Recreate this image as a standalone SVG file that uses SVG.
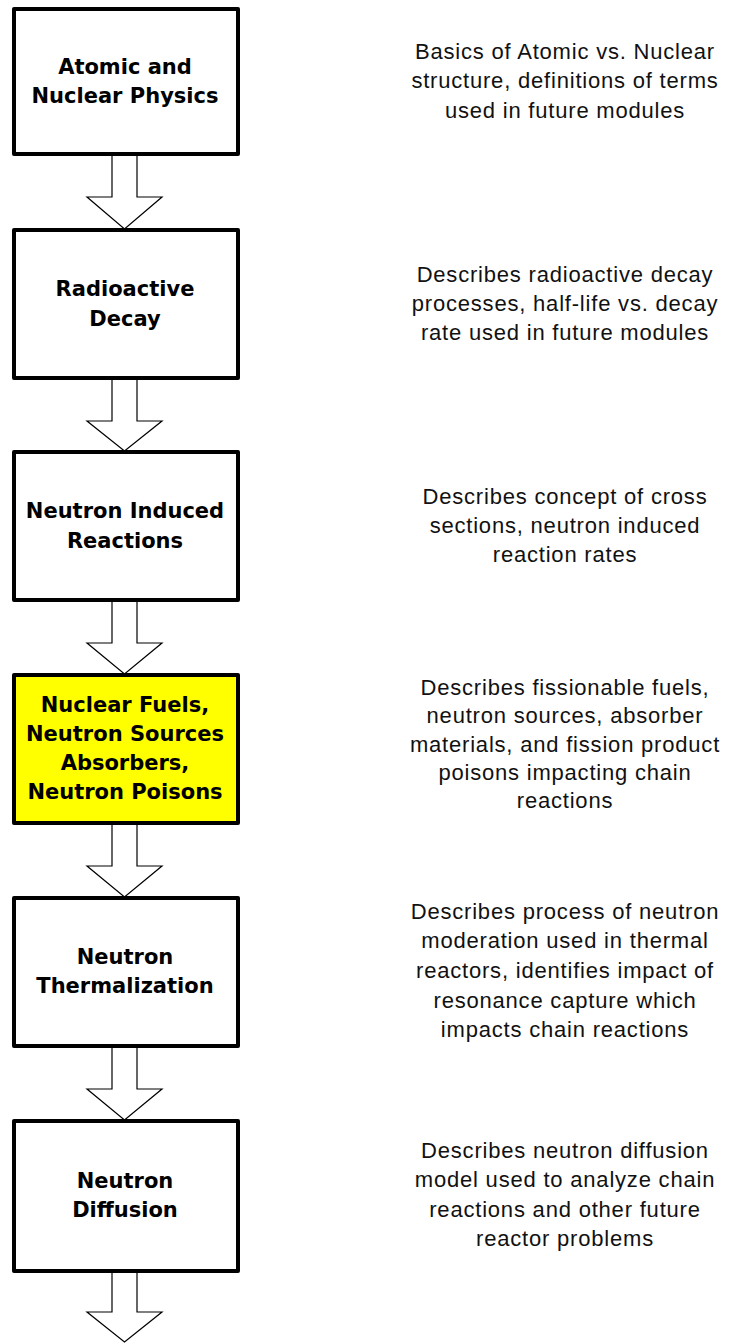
<svg xmlns="http://www.w3.org/2000/svg" width="730" height="1343" viewBox="0 0 730 1343">
<style>
.box{fill:#fff;stroke:#000;stroke-width:4;stroke-linejoin:round}
.hl{fill:#ffff00}
.arr{fill:#fff;stroke:#000;stroke-width:1.2;stroke-linejoin:miter}
.t{font-family:"DejaVu Sans",Verdana,sans-serif;font-weight:bold;font-size:21px;fill:#000;text-anchor:middle}
.d{font-family:"Liberation Sans",Arial,sans-serif;font-size:22px;letter-spacing:0.8px;fill:#111;text-anchor:middle}
</style>
<rect width="730" height="1343" fill="#fff"/>
<g id="connectors">
<polygon class="arr" points="112,154 112,197 87,197 124.5,229 162,197 137,197 137,154"/>
<polygon class="arr" points="112,378 112,421 87,421 124.5,451 162,421 137,421 137,378"/>
<polygon class="arr" points="112,600 112,643 87,643 124.5,674 162,643 137,643 137,600"/>
<polygon class="arr" points="112,823 112,866 87,866 124.5,897 162,866 137,866 137,823"/>
<polygon class="arr" points="112,1046 112,1089 87,1089 124.5,1120 162,1089 137,1089 137,1046"/>
<polygon class="arr" points="112,1271 112,1312 87,1312 124.5,1342 162,1312 137,1312 137,1271"/>
</g>
<g id="n1">
<rect class="box" x="14" y="9" width="224" height="145"/>
<text class="t" x="125" y="74">Atomic and</text>
<text class="t" x="125" y="103">Nuclear Physics</text>
<text class="d" x="565" y="59">Basics of Atomic vs. Nuclear</text>
<text class="d" x="565" y="88">structure, definitions of terms</text>
<text class="d" x="565" y="118">used in future modules</text>
</g>
<g id="n2">
<rect class="box" x="14" y="230" width="224" height="148"/>
<text class="t" x="125" y="296">Radioactive</text>
<text class="t" x="125" y="326">Decay</text>
<text class="d" x="565" y="282">Describes radioactive decay</text>
<text class="d" x="565" y="311">processes, half-life vs. decay</text>
<text class="d" x="565" y="340">rate used in future modules</text>
</g>
<g id="n3">
<rect class="box" x="14" y="452" width="224" height="148"/>
<text class="t" x="125" y="518">Neutron Induced</text>
<text class="t" x="125" y="548">Reactions</text>
<text class="d" x="565" y="504">Describes concept of cross</text>
<text class="d" x="565" y="533">sections, neutron induced</text>
<text class="d" x="565" y="562">reaction rates</text>
</g>
<g id="n4">
<rect class="box hl" x="14" y="675" width="224" height="148"/>
<text class="t" x="125" y="712">Nuclear Fuels,</text>
<text class="t" x="125" y="741">Neutron Sources</text>
<text class="t" x="125" y="770">Absorbers,</text>
<text class="t" x="125" y="799">Neutron Poisons</text>
<text class="d" x="565" y="695">Describes fissionable fuels,</text>
<text class="d" x="565" y="723">neutron sources, absorber</text>
<text class="d" x="565" y="752">materials, and fission product</text>
<text class="d" x="565" y="780">poisons impacting chain</text>
<text class="d" x="565" y="808">reactions</text>
</g>
<g id="n5">
<rect class="box" x="14" y="898" width="224" height="148"/>
<text class="t" x="125" y="964">Neutron</text>
<text class="t" x="125" y="993">Thermalization</text>
<text class="d" x="565" y="919">Describes process of neutron</text>
<text class="d" x="565" y="948">moderation used in thermal</text>
<text class="d" x="565" y="978">reactors, identifies impact of</text>
<text class="d" x="565" y="1008">resonance capture which</text>
<text class="d" x="565" y="1037">impacts chain reactions</text>
</g>
<g id="n6">
<rect class="box" x="14" y="1121" width="224" height="150"/>
<text class="t" x="125" y="1188">Neutron</text>
<text class="t" x="125" y="1217">Diffusion</text>
<text class="d" x="565" y="1158">Describes neutron diffusion</text>
<text class="d" x="565" y="1187">model used to analyze chain</text>
<text class="d" x="565" y="1217">reactions and other future</text>
<text class="d" x="565" y="1246">reactor problems</text>
</g>
</svg>
